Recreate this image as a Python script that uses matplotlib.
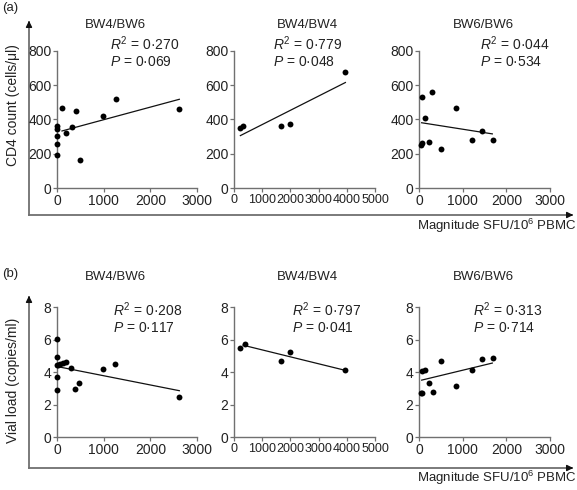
import matplotlib
matplotlib.use("Agg")
import matplotlib.pyplot as plt

plt.rcParams['font.family'] = ['Liberation Sans', 'DejaVu Sans']
plt.rcParams['mathtext.fontset'] = 'custom'
plt.rcParams['mathtext.rm'] = 'Liberation Sans'
plt.rcParams['mathtext.it'] = 'Liberation Sans:italic'
plt.rcParams['mathtext.bf'] = 'Liberation Sans:bold'

W, H = 577, 490

groups = ["BW4/BW6", "BW4/BW4", "BW6/BW6"]

# (a) CD4 count vs magnitude
cd4_x_bw46 = [0, 0, 0, 0, 0, 107, 186, 314, 407, 486, 979, 1264, 2621]
cd4_y_bw46 = [362, 345, 305, 255, 190, 466, 324, 357, 449, 161, 423, 518, 462]
cd4_x_bw44 = [226, 321, 1655, 2000, 3950]
cd4_y_bw44 = [350, 364, 364, 372, 680]
cd4_x_bw66 = [76, 305, 137, 840, 38, 76, 229, 496, 1221, 1450, 1702]
cd4_y_bw66 = [534, 563, 407, 469, 252, 261, 267, 225, 281, 335, 281]
cd4_fit_x = [[107, 2621], [226, 3950], [61, 1679]]
cd4_fit_y = [[333, 518], [306, 616], [381, 316]]
cd4_r2 = ["0·270", "0·779", "0·044"]
cd4_p = ["0·069", "0·048", "0·534"]

# (b) viral load vs magnitude
vl_x_bw46 = [0, 0, 0, 0, 0, 14, 71, 129, 186, 307, 393, 479, 979, 1236, 2621]
vl_y_bw46 = [6.01, 4.90, 4.43, 3.67, 2.89, 4.41, 4.47, 4.53, 4.62, 4.23, 2.93, 3.34, 4.16, 4.49, 2.46]
vl_x_bw44 = [226, 381, 1667, 2000, 3950]
vl_y_bw44 = [5.50, 5.75, 4.65, 5.25, 4.10]
vl_x_bw66 = [38, 76, 76, 137, 229, 320, 511, 855, 1221, 1450, 1702]
vl_y_bw66 = [2.73, 2.73, 4.05, 4.15, 3.30, 2.80, 4.65, 3.15, 4.10, 4.80, 4.85]
vl_fit_x = [[14, 2621], [321, 3950], [61, 1679]]
vl_fit_y = [[4.33, 2.85], [5.65, 4.10], [3.50, 4.55]]
vl_r2 = ["0·208", "0·797", "0·313"]
vl_p = ["0·117", "0·041", "0·714"]

xmax = [3000, 5000, 3000]
xticks = [[0, 1000, 2000, 3000], [0, 1000, 2000, 3000, 4000, 5000], [0, 1000, 2000, 3000]]

cd4_ticks = [0, 200, 400, 600, 800]
vl_ticks = [0, 2, 4, 6, 8]

fig = plt.figure(figsize=(W / 100, H / 100), dpi=100)

ov = fig.add_axes([0, 0, 1, 1])
ov.set_xlim(0, W)
ov.set_ylim(H, 0)
ov.axis('off')

GRAY = '#707070'
TXT = '#222222'

def pax(l, t, r, b):
    return fig.add_axes([l / W, 1 - b / H, (r - l) / W, (b - t) / H])

cols = [(57, 197), (234, 375), (419, 550)]
rows = [(51, 188), (307, 437)]

def draw_panel(ax, xs, ys, fx, fy, xm, xt, yt, ymax, xsize):
    ax.plot(fx, fy, color='#111111', lw=0.9, zorder=2)
    ax.scatter(xs, ys, s=18, color='black', zorder=3, linewidths=0, clip_on=False)
    ax.set_xlim(0, xm)
    ax.set_ylim(0, ymax)
    ax.set_xticks(xt)
    ax.set_yticks(yt)
    for s in ['top', 'right']:
        ax.spines[s].set_visible(False)
    for s in ['left', 'bottom']:
        ax.spines[s].set_color(GRAY)
        ax.spines[s].set_linewidth(1.0)
    ax.tick_params(direction='out', length=3, width=0.9, color=GRAY,
                   labelsize=10, labelcolor=TXT, pad=1)
    ax.tick_params(axis='x', labelsize=xsize)
    ax.patch.set_alpha(0)

cd4_xs = [cd4_x_bw46, cd4_x_bw44, cd4_x_bw66]
cd4_ys = [cd4_y_bw46, cd4_y_bw44, cd4_y_bw66]
vl_xs = [vl_x_bw46, vl_x_bw44, vl_x_bw66]
vl_ys = [vl_y_bw46, vl_y_bw44, vl_y_bw66]
xsizes = [10, 9, 10]

for i in range(3):
    l, r = cols[i]
    ax = pax(l, rows[0][0], r, rows[0][1])
    draw_panel(ax, cd4_xs[i], cd4_ys[i], cd4_fit_x[i], cd4_fit_y[i], xmax[i], xticks[i], cd4_ticks, 800, xsizes[i])
    ax = pax(l, rows[1][0], r, rows[1][1])
    draw_panel(ax, vl_xs[i], vl_ys[i], vl_fit_x[i], vl_fit_y[i], xmax[i], xticks[i], vl_ticks, 8, xsizes[i])

title_x = [115, 307, 483]
top_stats_x = [110, 273, 480]
bot_stats_x = [113, 292, 473]
for i in range(3):
    ov.text(title_x[i], 25, groups[i], ha='center', va='center', fontsize=9.5, color=TXT)
    ov.text(title_x[i], 277, groups[i], ha='center', va='center', fontsize=9.5, color=TXT)
    ov.text(top_stats_x[i], 44, r'$R^2$' + ' = ' + cd4_r2[i], ha='left', va='center', fontsize=10, color=TXT)
    ov.text(top_stats_x[i], 62, r'$P$' + ' = ' + cd4_p[i], ha='left', va='center', fontsize=10, color=TXT)
    ov.text(bot_stats_x[i], 310, r'$R^2$' + ' = ' + vl_r2[i], ha='left', va='center', fontsize=10, color=TXT)
    ov.text(bot_stats_x[i], 328, r'$P$' + ' = ' + vl_p[i], ha='left', va='center', fontsize=10, color=TXT)

for (ytop, ybot, ylab, lab, xlab_y) in [(18, 215, 105, 'CD4 count (cells/μl)', 226),
                                         (293, 468, 380, 'Vial load (copies/ml)', 478)]:
    ov.plot([29, 29], [ytop + 6, ybot], color=GRAY, lw=1.3)
    ov.plot([29, W - 6], [ybot, ybot], color=GRAY, lw=1.3)
    ov.annotate('', xy=(29, ytop), xytext=(29, ytop + 8),
                arrowprops=dict(arrowstyle='-|>', color='#111111', lw=1.0, mutation_scale=9))
    ov.annotate('', xy=(W - 1, ybot), xytext=(W - 9, ybot),
                arrowprops=dict(arrowstyle='-|>', color='#111111', lw=1.0, mutation_scale=9))
    ov.text(13, ylab, lab, rotation=90, ha='center', va='center', fontsize=10, color=TXT)
    ov.text(W - 1, xlab_y, r'Magnitude SFU/10$^{6}$ PBMC', ha='right', va='center', fontsize=9.5, color=TXT)

ov.text(2, 8, '(a)', ha='left', va='center', fontsize=9.5, color=TXT)
ov.text(2, 274, '(b)', ha='left', va='center', fontsize=9.5, color=TXT)

fig.savefig('out.png', dpi=100)
